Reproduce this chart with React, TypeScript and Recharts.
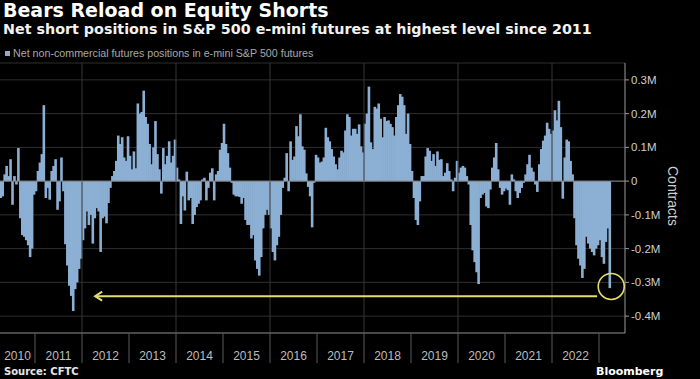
import { Bar, BarChart, CartesianGrid, Legend, ReferenceDot, ReferenceLine, XAxis, YAxis } from "recharts";

// net non-commercial positions, thousands of contracts, two readings a month
const v2010 = [-50, -45, 20, 45, 15, 65, -70, 15, -10, 98, -110, -160, -165, -175, -190, -225, -200, -40]; // from April
const v2011 = [-30, 30, 55, 80, 225, -50, -20, -55, 30, 45, 65, -85, -60, 70, -30, -187, -250, -310, -340, -385, -320, -300, -260, -230];
const v2012 = [-175, -140, -90, -130, -100, -185, -110, -80, -90, -210, -110, -105, -125, -65, -20, 15, 30, 60, 135, 110, 130, 70, 60, 133];
const v2013 = [75, 35, 88, 38, 230, 200, 205, 268, 190, 170, 110, 50, 100, 178, 80, 35, -37, 98, 50, 75, 118, 55, 75, 123];
const v2014 = [40, 5, -127, -45, -87, 28, -57, -50, -127, -100, -77, -67, -57, 5, 10, -57, -20, 25, 38, -57, 20, 30, 93, 113];
const v2015 = [170, 110, 83, 40, -5, -40, -45, -45, -47, -67, -50, -115, -130, -130, -170, -160, -235, -260, -280, -225, -140, -100, -85, -100];
const v2016 = [-140, -210, -235, -190, -165, -100, -20, 10, 83, -30, 118, 63, 73, 163, 133, 198, 103, 93, 23, -17, -45, -137, -5, 78];
const v2017 = [70, 55, 58, 70, 158, 130, 118, 95, 73, 50, 35, 70, 90, 85, 150, 198, 190, 135, 155, 155, 140, 168, 103, 85];
const v2018 = [170, 200, 280, 115, 95, 220, 215, 230, 185, 130, 190, 178, 180, 170, 160, 135, 190, 225, 258, 250, 225, 140, 200, 110];
const v2019 = [30, -50, -115, -130, -60, 15, 15, 73, 98, 90, 60, 80, 45, 88, 63, 65, 15, 25, 53, 30, 5, -30, 10, 60];
const v2020 = [25, 40, 45, 40, 15, -10, -130, -205, -240, -270, -305, -50, -40, -35, -75, -80, -25, 40, 70, 113, 35, -20, -40, -30];
const v2021 = [-22, -27, -70, 20, 5, -30, -50, -35, -20, -5, 20, 50, 78, 40, 28, -10, -32, 50, 95, 120, 135, 173, 155, 140];
const v2022 = [150, 210, 180, 238, 160, -52, 70, 123, 118, 60, 20, -110, -190, -230, -250, -287, -260, -165, -185, -200, -210, -220, -200, -190];
const v2023 = [-175, -225, -245, -180, -140, -317];

const yearTicks = [2011, 2012, 2013, 2014, 2015, 2016, 2017, 2018, 2019, 2020, 2021, 2022, 2023];
const yearLabels = [2010, 2011, 2012, 2013, 2014, 2015, 2016, 2017, 2018, 2019, 2020, 2021, 2022];
const gridYears = [2012, 2014, 2016, 2018, 2020, 2022];
const yTicks = [-400000, -300000, -200000, -100000, 0, 100000, 200000, 300000];

const X_DOMAIN = [2010.255, 2023.553];
const ARROW = { from: 2012.28, to: 2022.96, y: -341000 };
const CIRCLE = { x: 2023.26, y: -312000 };
const SERIES = "Net non-commercial futures positions in e-mini S&P 500 futures";

const YELLOW = "#e5dd72";
const BLUE = "#8cafd4";
const AXIS_FONT = "'Liberation Sans', Arial, sans-serif";
const HEAD_FONT = "'DejaVu Sans', sans-serif";

const byYear: [number, number, number[]][] = [
  [2010, 6, v2010], [2011, 0, v2011], [2012, 0, v2012], [2013, 0, v2013], [2014, 0, v2014],
  [2015, 0, v2015], [2016, 0, v2016], [2017, 0, v2017], [2018, 0, v2018], [2019, 0, v2019],
  [2020, 0, v2020], [2021, 0, v2021], [2022, 0, v2022], [2023, 0, v2023],
];
const data = byYear.flatMap(([year, start, vals]) =>
  vals.map((v, i) => ({ t: year + (start + i + 0.5) / 24, v: v * 1000 }))
);

// label for 2010 sits in the middle of the visible part of the year
const labelTicks = yearLabels.map((y) => (y === 2010 ? (X_DOMAIN[0] + 2011) / 2 : y + 0.5));

function YearTick({ x, y, payload }: any) {
  const v = payload.value as number;
  if (Number.isInteger(v)) {
    return <line x1={x} y1={y} x2={x} y2={y + 30} stroke="#5a5a5a" strokeWidth={1} />;
  }
  return (
    <text x={x} y={y + 27} textAnchor="middle" fill="#bdbdbd" fontSize={12} fontFamily={AXIS_FONT}>
      {Math.floor(v)}
    </text>
  );
}

function LegendBox({ payload }: any) {
  return (
    <div style={{ display: "flex", alignItems: "center", fontFamily: AXIS_FONT, fontSize: 10.7, color: "#a9a9a9", lineHeight: 1 }}>
      {(payload || []).map((p: any) => (
        <span key={p.value} style={{ display: "flex", alignItems: "center" }}>
          <span style={{ width: 5, height: 5, background: "#97aac2", marginRight: 3 }} />
          {p.value}
        </span>
      ))}
    </div>
  );
}

// bars sit edge to edge: draw each a bit wider than its slot, centred on it
function SolidBar(p: any) {
  if (!p.height) return null;
  const cx = p.x + p.width / 2;
  const y = p.height < 0 ? p.y + p.height : p.y;
  return <rect x={cx - 1.3} y={y} width={2.6} height={Math.abs(p.height)} fill={BLUE} />;
}

const fmtY = (v: number) => (v === 0 ? "0" : `${v / 1e6}M`);

export default function App() {
  return (
    <div style={{ position: "absolute", left: 0, top: 0, width: 700, height: 379, background: "#000", overflow: "hidden" }}>
      <div style={{ position: "absolute", left: 3, top: 1, fontFamily: HEAD_FONT, fontWeight: 700, fontSize: 19, lineHeight: 1, color: "#fff", whiteSpace: "nowrap" }}>
        Bears Reload on Equity Shorts
      </div>
      <div style={{ position: "absolute", left: 3, top: 22, fontFamily: HEAD_FONT, fontWeight: 700, fontSize: 14.3, lineHeight: 1, color: "#f2f2f2", whiteSpace: "nowrap" }}>
        Net short positions in S&amp;P 500 e-mini futures at highest level since 2011
      </div>

      <div style={{ position: "absolute", left: 0, top: 0 }}>
        <BarChart
          width={700}
          height={379}
          data={data}
          margin={{ top: 63, right: 0, bottom: 16, left: 0 }}
          barCategoryGap={0}
          barGap={0}
        >
          <CartesianGrid vertical={false} stroke="#2f2f2f" />
          {gridYears.map((y) => (
            <ReferenceLine key={y} x={y} stroke="#363636" />
          ))}
          <XAxis
            dataKey="t"
            type="number"
            domain={X_DOMAIN}
            allowDataOverflow
            ticks={[...yearTicks, ...labelTicks]}
            interval={0}
            tickSize={0}
            tickMargin={0}
            tickLine={false}
            tick={<YearTick />}
            axisLine={{ stroke: "#7a7a7a" }}
            height={30}
          />
          <YAxis
            orientation="right"
            width={75}
            domain={[-450000, 350000]}
            allowDataOverflow
            ticks={yTicks}
            interval={0}
            tickFormatter={fmtY}
            tickSize={4}
            tickMargin={2}
            tickLine={{ stroke: "#9a9a9a" }}
            axisLine={{ stroke: "#9a9a9a" }}
            tick={{ fill: "#cfcfcf", fontSize: 11.5, fontFamily: AXIS_FONT }}
          />
          <Legend
            verticalAlign="middle"
            align="center"
            wrapperStyle={{ top: 48, left: 5, width: 420, height: 12 }}
            content={<LegendBox />}
          />
          <Bar dataKey="v" name={SERIES} fill={BLUE} shape={<SolidBar />} isAnimationActive={false} />
          <ReferenceLine y={0} stroke="#858585" />
          <ReferenceLine
            segment={[{ x: ARROW.from, y: ARROW.y }, { x: ARROW.to, y: ARROW.y }]}
            stroke={YELLOW}
            strokeWidth={2}
          />
          <ReferenceDot
            x={ARROW.from}
            y={ARROW.y}
            r={1}
            shape={(p: any) => (
              <path
                d={`M${p.cx + 7},${p.cy - 4.5} L${p.cx},${p.cy} L${p.cx + 7},${p.cy + 4.5}`}
                fill="none"
                stroke={YELLOW}
                strokeWidth={2}
              />
            )}
          />
          <ReferenceDot x={CIRCLE.x} y={CIRCLE.y} r={13} fill="none" stroke={YELLOW} strokeWidth={1.6} />
        </BarChart>
      </div>

      <div style={{ position: "absolute", left: 666, top: 166, writingMode: "vertical-rl", fontFamily: AXIS_FONT, fontSize: 14, lineHeight: "14px", color: "#cfcfcf", whiteSpace: "nowrap" }}>
        Contracts
      </div>
      <div style={{ position: "absolute", left: 4, top: 366.5, fontFamily: HEAD_FONT, fontWeight: 700, fontSize: 10, lineHeight: 1, color: "#e6e6e6", whiteSpace: "nowrap" }}>
        Source: CFTC
      </div>
      <div style={{ position: "absolute", left: 596, top: 365.5, fontFamily: HEAD_FONT, fontWeight: 700, fontSize: 11, lineHeight: 1, color: "#fff", whiteSpace: "nowrap" }}>
        Bloomberg
      </div>
    </div>
  );
}
